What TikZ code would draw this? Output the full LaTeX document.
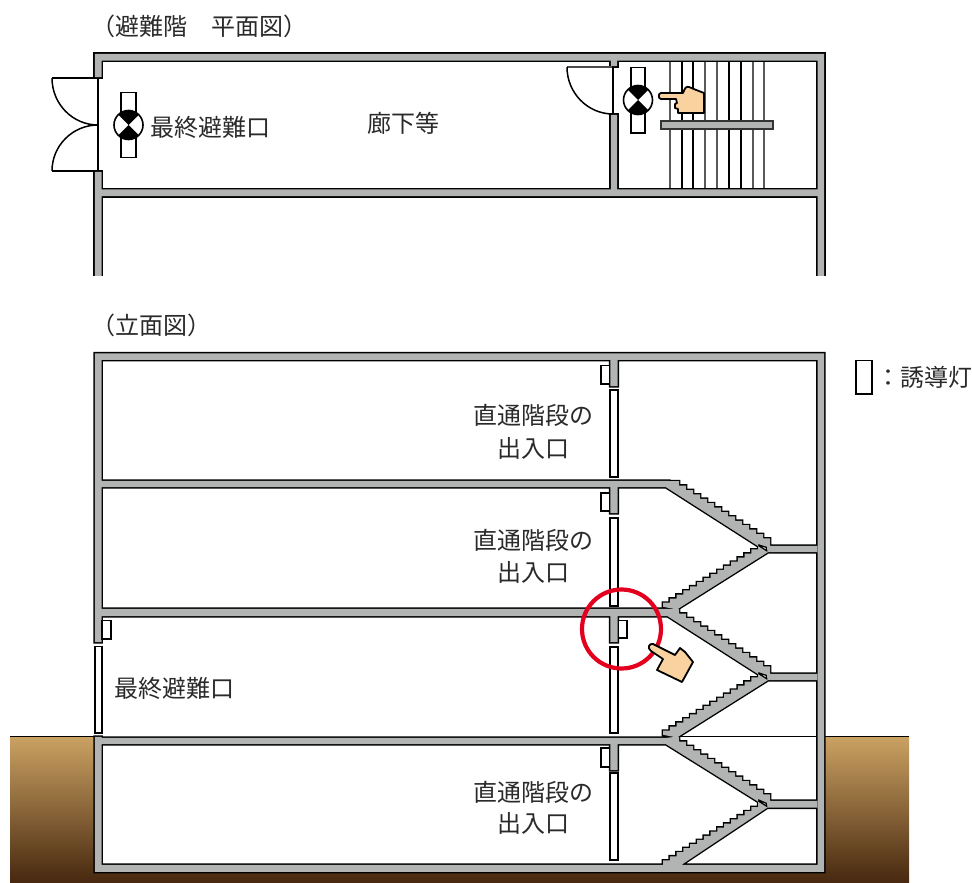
\documentclass[tikz,border=0pt]{standalone}
\usepackage{fontspec}
\setmainfont{Noto Sans CJK JP}
\begin{document}
\definecolor{wallgray}{HTML}{B2B4B4}
\definecolor{skin}{HTML}{FAD2A0}
\definecolor{soiltop}{HTML}{CBA263}
\definecolor{soilbot}{HTML}{47280F}
\definecolor{redring}{HTML}{E2001E}
\definecolor{inkgray}{HTML}{2A2A2A}
\tikzset{
  label text/.style={font=\fontsize{24}{27}\selectfont, text=inkgray, inner sep=0pt},
  door box/.style={draw=black, fill=white, line width=1.8pt},
  lamp box/.style={draw=black, fill=white, line width=1.8pt},
  door line/.style={draw=black, line width=1.5pt},
  hand shape/.style={draw=black, fill=skin, line width=1.8pt, line join=round},
  tread thin/.style={draw=black!65, line width=1.1pt},
  tread thick/.style={draw=black, line width=2pt},
}
% wall outlines: black stroke first, grey fill on top, so that joints merge
\newcommand{\wallrect}[4]{ ({#1+0.8},{#2+0.8}) rectangle ({#3-0.8},{#4-0.8}) }
\newcommand{\planwalls}{
  \wallrect{94}{53}{825}{61.5}
  \wallrect{94}{53}{102.3}{78}
  \wallrect{94}{171}{102.3}{285}
  \wallrect{816.7}{53}{825}{285}
  \wallrect{94}{188.5}{825}{197}
  \wallrect{610}{53}{618}{67}
  \wallrect{610}{114}{618}{197}
}
\newcommand{\flight}[1]{
  (666,487.2+#1) -- (767.5,552.2+#1) -- (817,552.2+#1) -- (817,545.8+#1) -- (770,545.8+#1) -- (770,542.8+#1)
  \foreach \i in {1,...,14}{ -- ++(0,-4.4) -- ++(-7,0) } -- (665,481+#1) -- cycle
  (767.5,552.5+#1) -- (677,609.5+#1) -- (663,606.8+#1)
  \foreach \i in {1,...,14}{ -- ++(0,-4.1) -- ++(6.8,0) } -- (758.2,544+#1) -- (767,546.8+#1) -- cycle
}
\newcommand{\elevwalls}{
  \wallrect{94}{352.5}{825}{360.7}
  \wallrect{94}{352.5}{102.3}{643}
  \wallrect{94}{736}{102.3}{872.7}
  \wallrect{816.7}{352.5}{825}{872.7}
  \wallrect{94}{864}{825}{872.7}
  \wallrect{94}{480}{670}{488}
  \wallrect{94}{608}{670}{617}
  \wallrect{94}{737}{670}{745}
  \wallrect{609.5}{352.5}{618.5}{387}
  \wallrect{609.5}{480}{618.5}{514}
  \wallrect{609.5}{608}{618.5}{643}
  \wallrect{609.5}{737}{618.5}{771}
  \flight{0} \flight{128}
  (666,744.2) -- (767.5,807.6) -- (817,807.6) -- (817,800.8) -- (770,800.8) -- (770,798.8)
  \foreach \i in {1,...,14}{ -- ++(0,-4.4) -- ++(-7,0) } -- (665,738) -- cycle
  (767.5,807.5) -- (682,864.5) -- (663,864.5)
  \foreach \i in {1,...,14}{ -- ++(0,-4.1) -- ++(6.8,0) } -- (758.2,799) -- (767,802.8) -- cycle
}
\newcommand{\exitlamp}[2]{%
  \fill[white] (#1,#2) circle (14.5);
  \fill[black] (#1,#2) -- ++(45:14.5) arc[start angle=45,end angle=135,radius=14.5] -- cycle;
  \fill[black] (#1,#2) -- ++(-45:14.5) arc[start angle=-45,end angle=-135,radius=14.5] -- cycle;
  \draw[black,line width=1.6pt] (#1,#2) circle (14.5);
}
\begin{tikzpicture}[x=1pt,y=-1pt]
\useasboundingbox (0,0) rectangle (972,883);

% ----- plan -----
\node[label text,anchor=west] (plantitle) at (91,26) {（避難階　平面図）};
\draw[door line] (52,78) -- (98,78);
\draw[door line] (52,171) -- (98,171);
\draw[door line] (52,78) arc[start angle=180,end angle=270,x radius=46,y radius=-47];
\draw[door line] (52,171) arc[start angle=180,end angle=90,x radius=46,y radius=-46];
\draw[black,line width=1.2pt] (98,78) -- (98,171);
\draw[black,line width=1.2pt] (90,125) -- (98,125);

\foreach \x in {670,705,717,753,764} \draw[tread thin] (\x,61) -- (\x,189);
\foreach \x in {682,693,729,741} \draw[tread thick] (\x,61) -- (\x,189);

\begin{scope}
  \clip (0,40) rectangle (972,275);
  \draw[black,line width=2.8pt,line join=miter] \planwalls;
  \fill[wallgray] \planwalls;
\end{scope}
\draw[door line] (613,67) -- (613,114);
\draw[black!70,line width=1.2pt] (567,67) -- (612,67);
\draw[black,line width=1.5pt] (567,67) arc[start angle=180,end angle=270,x radius=46,y radius=-47];

\draw[draw=black!80,fill=wallgray,line width=1.6pt] (661,121) rectangle (773,129);

\draw[lamp box] (121,92.5) rectangle (136,157.5);
\exitlamp{128.5}{125}
\draw[lamp box] (631,67.5) rectangle (645,133);
\exitlamp{638}{100}
\node[label text,anchor=west] (planexit) at (150,127) {最終避難口};
\node[label text] (corridor) at (403,123) {廊下等};

\draw[hand shape] (661,93) -- (683,93) .. controls (685,88) and (686,86) .. (689,87)
  -- (695,89.5) -- (704,93) -- (704,113) -- (678,113) -- (678,109) -- (675,108) -- (675,104) -- (677,103) -- (676,99)
  -- (661,99) .. controls (658,99) and (658,93) .. (661,93) -- cycle;

% ----- elevation -----
\node[label text,anchor=west] (elevtitle) at (91,325) {（立面図）};
\shade[top color=soiltop,bottom color=soilbot] (10,736) rectangle (909,883);
\draw[black,line width=1pt] (10,736) -- (909,736);
\fill[white] (94,352) rectangle (825,872);
\fill[white] (94,643) rectangle (102,737);
\draw[black,line width=1pt] (680,736.5) -- (817,736.5);

\draw[black,line width=2.8pt,line join=miter] \elevwalls;
\fill[wallgray] \elevwalls;

% doors
\draw[door box,line width=1.4pt] (95,646.5) rectangle (102,733);
\draw[door box] (609.8,390) rectangle (618.2,477);
\draw[door box] (609.8,518) rectangle (618.2,606);
\draw[door box] (609.8,647) rectangle (618.2,733);
\draw[door box] (609.8,773) rectangle (618.2,860);
% lamps
\draw[lamp box] (601,365.5) rectangle (609.5,384);
\draw[lamp box] (601,493) rectangle (609.5,511);
\draw[lamp box] (618.5,620.5) rectangle (627,638);
\draw[lamp box] (601,748) rectangle (609.5,767);
\draw[lamp box] (102.3,620.5) rectangle (111,639);

\node[label text] (stairA1) at (533,415) {直通階段の};
\node[label text] (stairA2) at (533,448) {出入口};
\node[label text] (stairB1) at (533,540) {直通階段の};
\node[label text] (stairB2) at (533,572) {出入口};
\node[label text] (stairC1) at (533,792) {直通階段の};
\node[label text] (stairC2) at (533,823) {出入口};
\node[label text,anchor=west] (elevexit) at (114,688) {最終避難口};

\draw[redring,line width=4.2pt] (621.5,629) circle (39.5);

\draw[hand shape] (653,644) -- (675,655) -- (680,648) -- (685,652) -- (693,662) -- (682,682) -- (657,670) -- (663,659)
  -- (651,651) .. controls (647,648) and (649,643) .. (653,644) -- cycle;

% ----- legend -----
\draw[lamp box] (856,360.5) rectangle (872,394);
\node[label text,anchor=west] (legend) at (876,377) {：誘導灯};
\end{tikzpicture}
\end{document}
